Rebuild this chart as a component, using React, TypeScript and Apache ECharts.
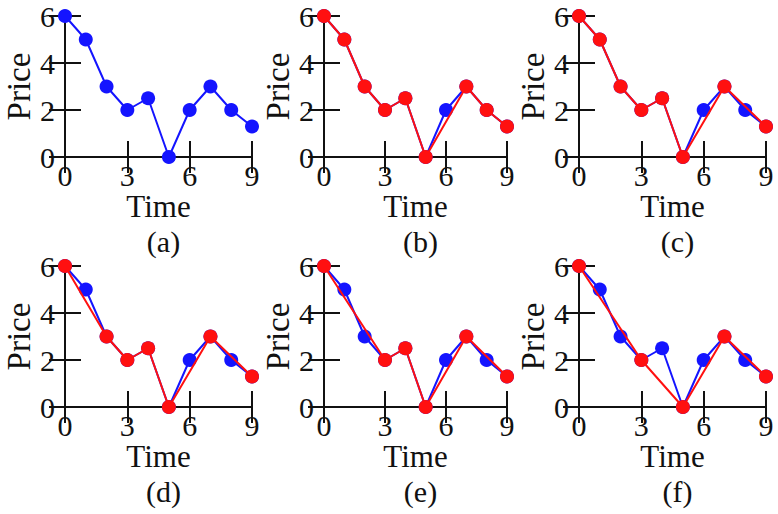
import React, { useEffect, useRef } from "react";
import * as echarts from "echarts";

const timeSteps = [0, 1, 2, 3, 4, 5, 6, 7, 8, 9];
const prices = [6, 5, 3, 2, 2.5, 0, 2, 3, 2, 1.3];
const panelLabels = ["(a)", "(b)", "(c)", "(d)", "(e)", "(f)"];
const redIndices: number[][] = [
  [],
  [0, 1, 2, 3, 4, 5, 7, 8, 9],
  [0, 1, 2, 3, 4, 5, 7, 9],
  [0, 2, 3, 4, 5, 7, 9],
  [0, 3, 4, 5, 7, 9],
  [0, 3, 5, 7, 9],
];
const xTicks = { min: 0, max: 9, interval: 3 };
const yTicks = { min: 0, max: 6, interval: 2 };
const xName = "Time";
const yName = "Price";

const FONT = '"Liberation Serif", "Times New Roman", serif';
const BLUE = "#1414ff";
const RED = "#ff1010";

export default function App() {
  const ref = useRef<HTMLDivElement>(null);
  useEffect(() => {
    if (!ref.current) return;
    const chart = echarts.init(ref.current, null, { renderer: "svg" });
    const lefts = [65, 324, 579];
    const widths = [187, 183, 187];
    const tops = [16, 266];
    const height = 141;

    const grids: any[] = [];
    const xAxes: any[] = [];
    const yAxes: any[] = [];
    const series: any[] = [];
    const titles: any[] = [];

    const axisLine = { show: true, lineStyle: { color: "#111", width: 2 } };
    const tickStyle = { color: "#111", width: 2 };

    for (let p = 0; p < 6; p++) {
      const col = p % 3;
      const row = Math.floor(p / 3);
      grids.push({ left: lefts[col], top: tops[row], width: widths[col], height, containLabel: false });
      xAxes.push({
        type: "value", gridIndex: p, position: "bottom", ...xTicks,
        axisLine, axisTick: { inside: true, length: 16, lineStyle: tickStyle },
        splitLine: { show: false },
        axisLabel: { color: "#111", fontFamily: FONT, fontSize: 30, margin: 3 },
        name: xName, nameLocation: "middle", nameGap: 30,
        nameTextStyle: { color: "#111", fontFamily: FONT, fontSize: 31 },
      });
      xAxes.push({
        type: "value", gridIndex: p, position: "top", ...xTicks,
        axisLine, axisTick: { inside: true, length: 16, lineStyle: tickStyle },
        splitLine: { show: false }, axisLabel: { show: false },
      });
      yAxes.push({
        type: "value", gridIndex: p, position: "left", ...yTicks,
        axisLine, axisTick: { inside: true, length: 16, lineStyle: tickStyle },
        splitLine: { show: false },
        axisLabel: { color: "#111", fontFamily: FONT, fontSize: 30, margin: 10 },
        name: yName, nameLocation: "middle", nameGap: 30,
        nameTextStyle: { color: "#111", fontFamily: FONT, fontSize: 33 },
      });
      yAxes.push({
        type: "value", gridIndex: p, position: "right", ...yTicks,
        axisLine, axisTick: { inside: true, length: 16, lineStyle: tickStyle },
        splitLine: { show: false }, axisLabel: { show: false },
      });
      const blueData = timeSteps.map((t, i) => [t, prices[i]]);
      series.push({
        type: "line", xAxisIndex: p * 2, yAxisIndex: p * 2, data: blueData,
        symbol: "circle", symbolSize: 14, clip: false,
        lineStyle: { color: BLUE, width: 2 }, itemStyle: { color: BLUE },
        z: 2,
      });
      if (redIndices[p].length) {
        series.push({
          type: "line", xAxisIndex: p * 2, yAxisIndex: p * 2,
          data: redIndices[p].map((i) => [timeSteps[i], prices[i]]),
          symbol: "circle", symbolSize: 14, clip: false,
          lineStyle: { color: RED, width: 2 }, itemStyle: { color: RED },
          z: 3,
        });
      }
      titles.push({
        text: panelLabels[p],
        left: lefts[col] + widths[col] / 2,
        top: tops[row] + 205,
        textAlign: "center",
        textStyle: { color: "#111", fontFamily: FONT, fontSize: 30, fontWeight: "normal" },
      });
    }

    chart.setOption({
      animation: false,
      backgroundColor: "#fff",
      title: titles,
      grid: grids,
      xAxis: xAxes,
      yAxis: yAxes,
      series,
    });
    return () => chart.dispose();
  }, []);
  return (
    <div
      ref={ref}
      style={{ position: "fixed", left: 0, top: 0, width: 778, height: 514 }}
    />
  );
}
